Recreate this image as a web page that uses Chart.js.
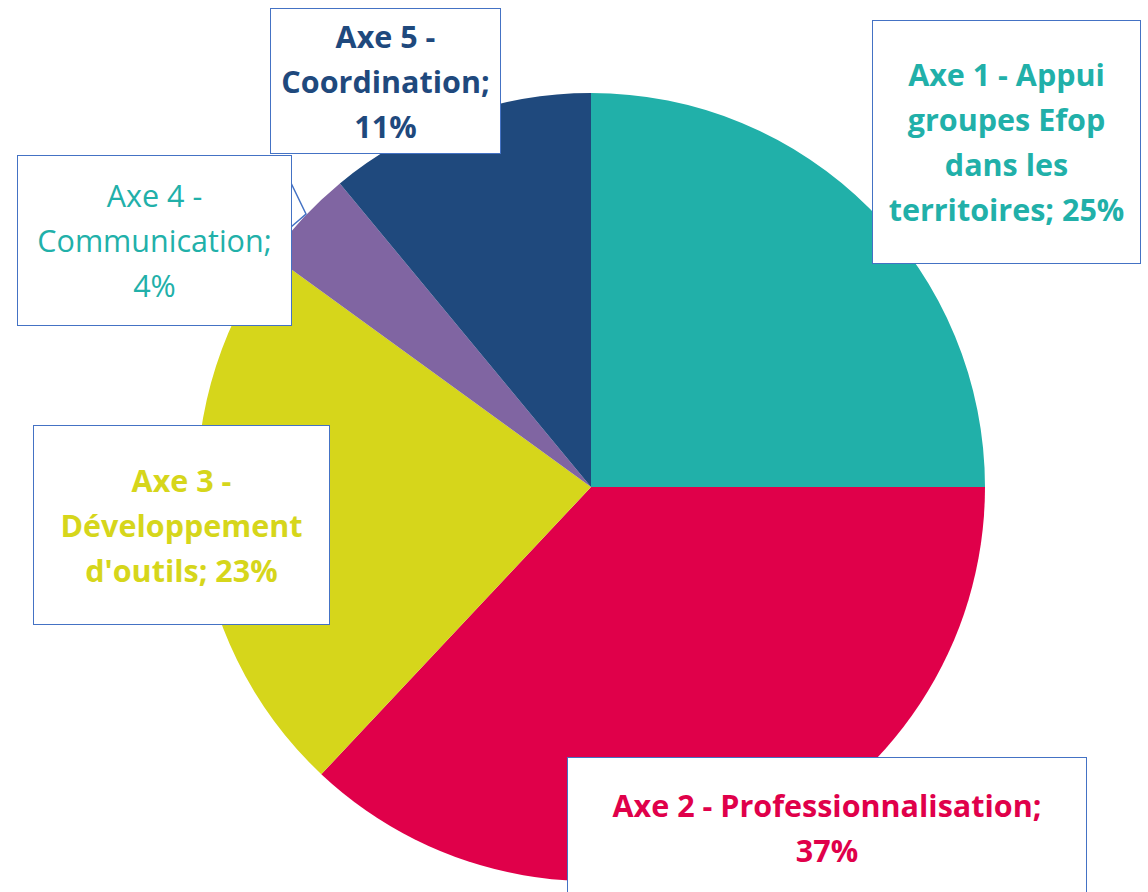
<!DOCTYPE html>
<html lang="fr">
<head>
  <meta charset="UTF-8" />
  <title>Répartition par axe</title>
  <script src="https://cdn.jsdelivr.net/npm/chart.js"></script>
  <style>
    html, body { margin: 0; padding: 0; background: #fff; overflow: hidden; }
    #wrap { position: relative; width: 1148px; height: 892px; }
    canvas { position: absolute; left: 0; top: 0; }
    .lbl {
      position: absolute; box-sizing: border-box; background: #fff;
      border: 1.5px solid #4472C4; display: flex; align-items: center; justify-content: center;
      text-align: center; font-family: "Open Sans", Lato, sans-serif; font-size: 30.5px;
      line-height: 45px; font-weight: bold; white-space: nowrap;
    }
  </style>
</head>
<body>
<div id="wrap">
  <canvas id="pie" width="1148" height="892"></canvas>
</div>

<script>
  const labels = [
    "Axe 1 - Appui groupes Efop dans les territoires",
    "Axe 2 - Professionnalisation",
    "Axe 3 - Développement d'outils",
    "Axe 4 - Communication",
    "Axe 5 - Coordination"
  ];
  const values = [25, 37, 23, 4, 11];
  const colors = ["#21B0A9", "#E0004A", "#D6D61B", "#8065A2", "#1F497D"];
  const textColors = ["#21B0A9", "#E0004A", "#D6D61B", "#21B0A9", "#1F497D"];

  // label boxes: text lines, box [left, top, width, height], bold
  const boxes = [
    { lines: ["Axe 1 - Appui", "groupes Efop", "dans les", "territoires; 25%"], box: [872, 20, 269, 244], bold: true },
    { lines: ["Axe 2 - Professionnalisation;", "37%"], box: [567, 757, 520, 142], bold: true },
    { lines: ["Axe 3 -", "Développement", "d'outils; 23%"], box: [33, 425, 297, 200], bold: true },
    { lines: ["Axe 4 -", "Communication;", "4%"], box: [17, 155, 275, 171], bold: false },
    { lines: ["Axe 5 -", "Coordination;", "11%"], box: [270, 8, 231, 146], bold: true }
  ];

  const leader = {
    id: "leader",
    afterDraw(chart) {
      const ctx = chart.ctx;
      ctx.save();
      ctx.strokeStyle = "#4472C4";
      ctx.lineWidth = 1.5;
      ctx.beginPath();
      ctx.moveTo(291, 183);
      ctx.lineTo(306, 214);
      ctx.lineTo(291, 227);
      ctx.stroke();
      ctx.restore();
    }
  };

  new Chart(document.getElementById("pie"), {
    type: "pie",
    data: {
      labels: labels,
      datasets: [{
        data: values,
        backgroundColor: colors,
        borderWidth: 0
      }]
    },
    options: {
      responsive: false,
      animation: false,
      layout: { padding: { left: 197, right: 163, top: 93, bottom: 11 } },
      plugins: { legend: { display: false }, tooltip: { enabled: false } }
    },
    plugins: [leader]
  });

  const wrap = document.getElementById("wrap");
  boxes.forEach((b, i) => {
    const d = document.createElement("div");
    d.className = "lbl";
    d.style.left = b.box[0] + "px";
    d.style.top = b.box[1] + "px";
    d.style.width = b.box[2] + "px";
    d.style.height = b.box[3] + "px";
    d.style.color = textColors[i];
    d.style.fontWeight = b.bold ? "bold" : "normal";
    d.innerHTML = b.lines.join("<br>");
    wrap.appendChild(d);
  });
</script>
</body>
</html>
